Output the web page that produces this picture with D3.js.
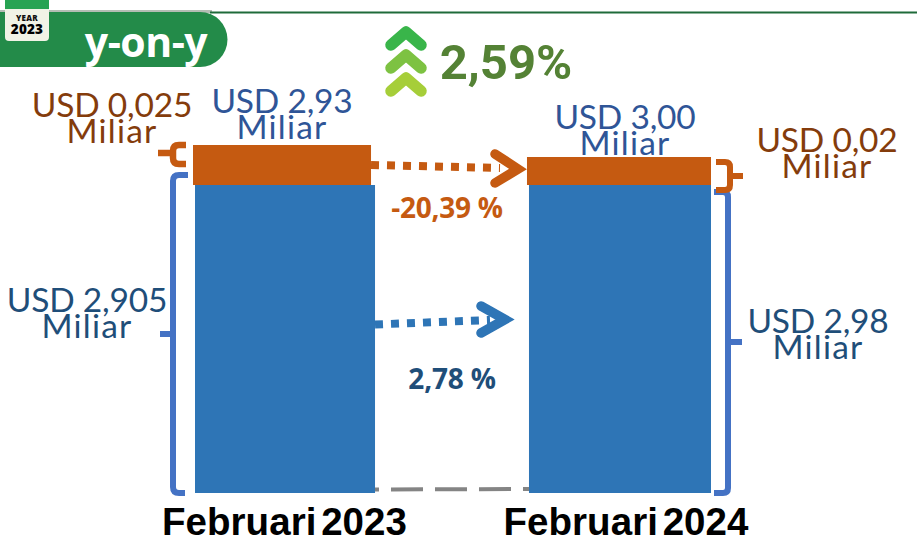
<!DOCTYPE html>
<html><head><meta charset="utf-8"><script src="https://cdn.jsdelivr.net/npm/d3@7/dist/d3.min.js"></script>
<style>html,body{margin:0;background:#fff}svg{display:block}</style></head><body><div id="c"></div>
<script>
const categories=["Februari 2023","Februari 2024"];
const blueValues=[2.905,2.98];
const orangeValues=[0.025,0.02];
const totalLabels=["USD 2,93","USD 3,00"];
const blueLabels=["USD 2,905","USD 2,98"];
const orangeLabels=["USD 0,025","USD 0,02"];
const blueChange="2,78 %", orangeChange="-20,39 %", totalChange="2,59%";

const svg=d3.select("#c").append("svg").attr("width",917).attr("height",543);
// The picture is not drawn to scale: both blue stacks share one height, and the orange caps are exaggerated.
const x=d3.scaleBand().domain(categories).range([195,711]).paddingInner(0.455);
const blueH=d3.scaleLinear().domain([2.905,2.98]).range([308,308]);
const orangeH=d3.scaleLinear().domain([0.02,0.025]).range([28,40]);
const base=493, blue="#2E75B6", orange="#C55A11", bracket="#4472C4";

// header
svg.append("rect").attr("x",0).attr("y",10).attr("width",212).attr("height",3).attr("fill","#b4bdb4");
svg.append("rect").attr("x",210).attr("y",11.5).attr("width",707).attr("height",2).attr("fill","#1f6b3a");
svg.append("path").attr("d","M0,12H200A27.5,27.5 0 0 1 200,67H0Z").attr("fill","#238B49");
svg.append("rect").attr("x",5).attr("y",-5).attr("width",44).attr("height",46).attr("rx",4).attr("fill","#f1f3e6");
svg.append("path").attr("d","M5,0H49V9H5Z").attr("fill","#27A352");
const t=(s,x,y,size,fill,o={})=>svg.append("text").attr("x",x).attr("y",y).attr("text-anchor",o.anchor||"middle")
  .attr("font-family",o.font||"Lato").attr("font-size",size).attr("font-weight",o.weight||400).attr("fill",fill)
  .attr("letter-spacing",o.ls||0).attr("word-spacing",o.ws||0).text(s);
t("YEAR",27,21,8,"#111",{font:"Open Sans",weight:800,ls:.3});
t("2023",27,34,13.5,"#000",{font:"Open Sans",weight:800,ls:.2});
t("y-on-y",146,57,41,"#fff",{font:"Open Sans",weight:700,ls:-.5});

// chevrons
[[32,"#39B54A"],[55,"#7DC242"],[78,"#A6CE39"]].forEach(([y,c])=>{
  svg.append("path").attr("d",`M391,${y+13}L406,${y}L421,${y+13}`)
   .attr("fill","none").attr("stroke",c).attr("stroke-width",11.5).attr("stroke-linecap","round").attr("stroke-linejoin","round");
});
t(totalChange,506,79,49,"#548235",{font:"Roboto",weight:700});

// bars
const g=svg.append("g");
categories.forEach((c,i)=>{
  const bx=x(c), w=x.bandwidth();
  const bh=blueH(blueValues[i]), oh=orangeH(orangeValues[i]);
  g.append("rect").attr("x",bx).attr("y",base-bh).attr("width",i?w:w-2).attr("height",bh).attr("fill",blue);
  g.append("rect").attr("x",bx-2).attr("y",base-bh-oh).attr("width",i?w+2:w-4).attr("height",oh).attr("fill",orange);
  t(c,i?626:284.5,535,38.5,"#000",{font:"Liberation Sans",weight:700,ws:-6,ls:.05});
});

// brackets
const line=(d,c,w)=>svg.append("path").attr("d",d).attr("fill","none").attr("stroke",c).attr("stroke-width",w);
line("M188,175H179Q173,175 173,181V334H160M173,334V487Q173,493 179,493H185",bracket,6);
line("M186,145H179Q173,145 173,151V153H158M173,153V158Q173,164 179,164H186",orange,6.5);
line("M714,192H723Q728,192 728,197V342H742M728,342V488Q728,493 723,493H714",bracket,6);
line("M716,162H725Q730,162 730,167V176H743M730,176V185Q730,190 725,190H716",orange,6);

// dashed baseline
line("M375,489.5L529,489",'#848484',4).attr("stroke-dasharray","32,12").attr("stroke-dashoffset",28);

// arrows
line("M371,165L500,168",orange,8).attr("stroke-dasharray","8,8");
line("M495,154L518,169L495,183",orange,9.5).attr("stroke-linecap","round").attr("stroke-linejoin","miter");
line("M375,324.5L490,320",blue,8).attr("stroke-dasharray","8,8");
line("M481,306L505,319.5L481,333",blue,9.5).attr("stroke-linejoin","miter").attr("stroke-linecap","round");
t(orangeChange,447,218,28,orange,{font:"Open Sans",weight:700,ls:-.25});
t(blueChange,452,389,28,"#1F4E79",{font:"Open Sans",weight:700,ls:-.2});

// value labels
const lab=(a,cx,y,c)=>{t(a,cx,y,33.5,c,{ls:-.2});t("Miliar",cx,y+26,33.5,c,{ls:1.2});};
lab(orangeLabels[0],112,117,"#843C0C");
lab(totalLabels[0],282,113,"#2F5597");
lab(totalLabels[1],625,129,"#2F5597");
lab(orangeLabels[1],827,152,"#843C0C");
lab(blueLabels[0],87,312,"#1F4E79");
lab(blueLabels[1],818,333,"#1F4E79");
</script></body></html>
